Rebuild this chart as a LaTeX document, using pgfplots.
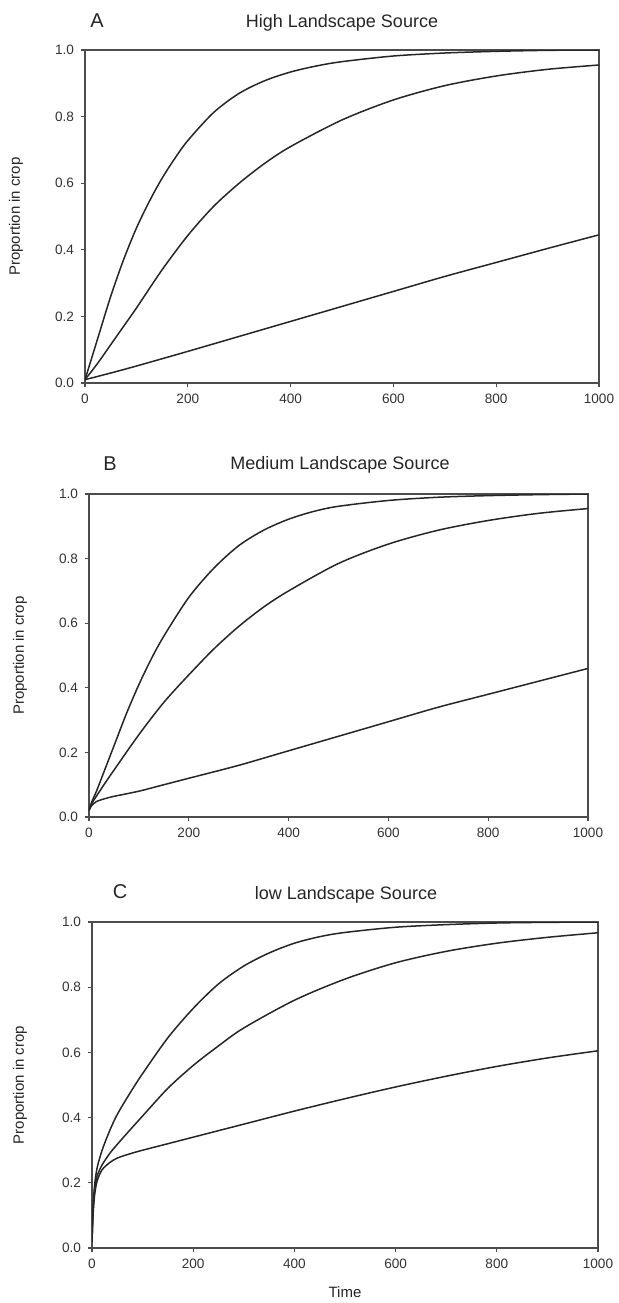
\documentclass[border=0pt]{standalone}
\usepackage{fontspec}
\setmainfont{Liberation Sans}
\usepackage{pgfplots}
\pgfplotsset{compat=1.18}

\pgfplotsset{panel/.style={
  scale only axis, anchor=south west,
  xmin=0, xmax=1000, ymin=0, ymax=1,
  xtick={0,200,400,600,800,1000}, ytick={0,0.2,0.4,0.6,0.8,1.0},
  yticklabel style={/pgf/number format/fixed, /pgf/number format/fixed zerofill, /pgf/number format/precision=1},
  xticklabel style={/pgf/number format/1000 sep={}},
  /pgf/number format/assume math mode=true,
  tick align=outside, tick pos=left, major tick length=2pt,
  axis line style={draw=black!70, line width=1pt},
  every tick/.style={draw=black!70, line width=0.6pt},
  tick label style={font=\fontsize{6.8}{8}\selectfont, text=black!80},
},
crv/.style={draw=black!85, line width=0.75pt, smooth, tension=0.5, mark=none}}

\begin{document}
\begin{tikzpicture}[x=1pt,y=1pt]
\useasboundingbox (0,0) rectangle (309,-651.5);

% Panel A
\begin{axis}[panel, at={(42.5pt,-191.5pt)}, width=257pt, height=166.5pt]
\addplot[crv] coordinates {(0,0.01)(25,0.135)(50,0.26)(75,0.37)(100,0.465)(125,0.545)(150,0.615)(175,0.675)(200,0.728)(250,0.812)(300,0.87)(350,0.908)(400,0.934)(450,0.952)(500,0.965)(600,0.982)(700,0.991)(800,0.996)(900,0.999)(1000,1.0)};
\addplot[crv] coordinates {(0,0.01)(25,0.06)(50,0.115)(75,0.17)(100,0.225)(150,0.34)(200,0.443)(250,0.53)(300,0.60)(350,0.66)(400,0.71)(500,0.79)(600,0.85)(700,0.893)(800,0.922)(900,0.942)(1000,0.955)};
\addplot[crv] coordinates {(0,0.01)(50,0.03)(100,0.051)(200,0.095)(300,0.14)(400,0.185)(500,0.23)(600,0.275)(700,0.32)(800,0.362)(900,0.404)(1000,0.445)};
\end{axis}

% Panel B
\begin{axis}[panel, at={(44.5pt,-408.5pt)}, width=249.5pt, height=161.5pt]
\addplot[crv] coordinates {(0,0.02)(5,0.045)(15,0.08)(30,0.14)(50,0.22)(75,0.32)(100,0.41)(125,0.49)(150,0.56)(200,0.68)(250,0.77)(300,0.84)(350,0.888)(400,0.922)(450,0.946)(500,0.962)(600,0.98)(700,0.99)(800,0.995)(900,0.998)(1000,1.0)};
\addplot[crv] coordinates {(0,0.02)(5,0.04)(15,0.065)(30,0.10)(50,0.145)(100,0.255)(150,0.355)(200,0.44)(250,0.52)(300,0.59)(350,0.65)(400,0.70)(500,0.785)(600,0.845)(700,0.888)(800,0.918)(900,0.94)(1000,0.955)};
\addplot[crv] coordinates {(0,0.02)(5,0.035)(15,0.048)(30,0.056)(50,0.064)(100,0.08)(150,0.10)(200,0.12)(300,0.16)(400,0.205)(500,0.25)(600,0.295)(700,0.34)(800,0.38)(900,0.42)(1000,0.46)};
\end{axis}

% Panel C
\begin{axis}[panel, at={(46pt,-624pt)}, width=253pt, height=163pt]
\addplot[crv] coordinates {(0,0.02)(2,0.12)(5,0.19)(10,0.245)(20,0.30)(35,0.36)(50,0.41)(75,0.475)(100,0.535)(150,0.645)(200,0.735)(250,0.81)(300,0.865)(350,0.905)(400,0.935)(450,0.955)(500,0.968)(600,0.984)(700,0.992)(800,0.997)(900,0.999)(1000,1.0)};
\addplot[crv] coordinates {(0,0.02)(2,0.11)(5,0.175)(10,0.22)(20,0.255)(35,0.29)(50,0.318)(75,0.362)(100,0.405)(150,0.49)(200,0.56)(250,0.62)(300,0.675)(400,0.76)(500,0.825)(600,0.875)(700,0.91)(800,0.935)(900,0.953)(1000,0.967)};
\addplot[crv] coordinates {(0,0.02)(2,0.10)(5,0.16)(10,0.205)(20,0.24)(35,0.262)(50,0.276)(75,0.289)(100,0.30)(150,0.32)(200,0.34)(300,0.38)(400,0.42)(500,0.458)(600,0.494)(700,0.527)(800,0.557)(900,0.583)(1000,0.605)};
\end{axis}

% texts
\begin{scope}[every node/.style={text=black!85}]
\node[font=\fontsize{9}{10}\selectfont] at (171,-11.5) {High Landscape Source};
\node[font=\fontsize{9}{10}\selectfont] at (170,-232.5) {Medium Landscape Source};
\node[font=\fontsize{9}{10}\selectfont] at (173,-447.5) {low Landscape Source};
\node[font=\fontsize{10}{11}\selectfont] at (48.5,-10.5) {A};
\node[font=\fontsize{10}{11}\selectfont] at (55,-232) {B};
\node[font=\fontsize{10}{11}\selectfont] at (60,-446) {C};
\node[rotate=90, font=\fontsize{7.5}{8}\selectfont] at (8,-108.25) {Proportion in crop};
\node[rotate=90, font=\fontsize{7.5}{8}\selectfont] at (10,-327.75) {Proportion in crop};
\node[rotate=90, font=\fontsize{7.5}{8}\selectfont] at (10,-542.5) {Proportion in crop};
\node[font=\fontsize{7.5}{8}\selectfont] at (172.5,-646) {Time};
\end{scope}
\end{tikzpicture}
\end{document}
